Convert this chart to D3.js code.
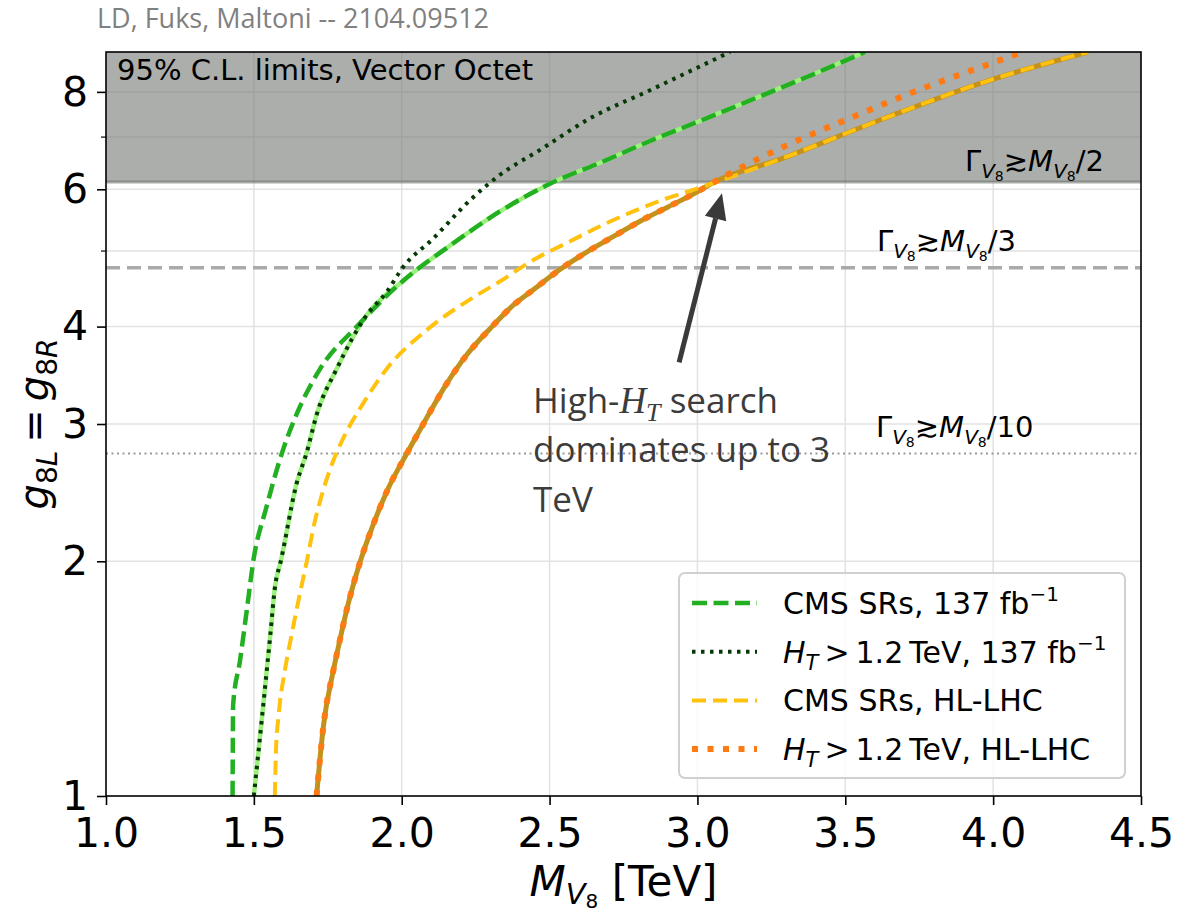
<!DOCTYPE html>
<html>
<head>
<meta charset="utf-8">
<script src="https://cdn.jsdelivr.net/npm/d3@7"></script>
<style>
    body { margin: 0; background: #fff; }
    svg text { font-family: "DejaVu Sans", sans-serif; }
</style>
</head>
<body>
<svg id="chart" width="1178" height="914"></svg>
<script>

var margin = { top: 52, right: 37, bottom: 118, left: 106 }
    , width = 1178 - margin.left - margin.right
    , height = 914 - margin.top - margin.bottom;

// limit curves, [M_V8 in TeV, g8L = g8R]
const cms137 = [[1.428, 1.0], [1.430, 1.31], [1.453, 1.49], [1.476, 1.73], [1.498, 2.0], [1.543, 2.35],
    [1.600, 2.79], [1.645, 3.09], [1.724, 3.53], [1.848, 4.0], [2.005, 4.58], [2.163, 5.08], [2.332, 5.62],
    [2.501, 6.10], [2.671, 6.49], [2.84, 6.92], [3.0, 7.32], [3.178, 7.80], [3.37, 8.36], [3.567, 9.0]];

const ht137 = [[1.500, 1.0], [1.532, 1.31], [1.555, 1.60], [1.572, 1.86], [1.591, 2.0], [1.645, 2.52],
    [1.679, 2.76], [1.713, 3.09], [1.780, 3.53], [1.882, 4.14], [1.949, 4.43], [2.005, 4.77], [2.107, 5.19],
    [2.231, 5.81], [2.332, 6.26], [2.468, 6.74], [2.637, 7.4], [2.84, 8.04], [3.11, 9.0]];

const cmsHL = [[1.571, 1.0], [1.575, 1.15], [1.583, 1.26], [1.605, 1.45], [1.622, 1.57], [1.656, 1.82],
    [1.679, 2.0], [1.705, 2.24], [1.735, 2.47], [1.77, 2.70], [1.803, 2.88], [1.870, 3.19], [1.949, 3.53],
    [2.085, 3.96], [2.242, 4.36], [2.332, 4.57], [2.445, 4.87], [2.558, 5.12], [2.671, 5.38], [2.783, 5.62],
    [2.896, 5.84], [2.98, 5.98], [3.043, 6.09], [3.29, 6.58], [3.629, 7.39], [3.967, 8.23], [4.32, 9.0]];

const htHL = [[1.712, 1.0], [1.722, 1.10], [1.735, 1.227], [1.769, 1.45], [1.786, 1.554], [1.814, 1.733],
    [1.86, 2.0], [1.90, 2.21], [1.95, 2.46], [2.022, 2.77], [2.073, 3.0], [2.15, 3.37], [2.22, 3.68],
    [2.30, 3.98], [2.38, 4.27], [2.445, 4.46], [2.53, 4.72], [2.62, 4.97], [2.716, 5.22], [2.806, 5.46],
    [2.902, 5.70], [2.998, 5.95], [3.043, 6.09], [3.1, 6.26], [3.29, 6.80], [3.5, 7.36], [3.75, 8.05],
    [4.0, 8.72], [4.10, 9.0]];

// best of the two searches (where the curves cross)
const cross137 = 1.882;
const crossHL = 3.043;

const mTicks = [1.0, 1.5, 2.0, 2.5, 3.0, 3.5, 4.0, 4.5];
const gTicks = [1, 2, 3, 4, 6, 8];
const gMinorTicks = [5, 7];
const gGrid = [2, 3, 4, 5, 6, 7, 8];

// Gamma >~ M / n lines
const widthFractions = ["2", "3", "10"];
const widthCouplings = [6.13, 4.76, 2.75];

const legendNames = ["CMS SRs, 137 fb", "H_T>1.2 TeV, 137 fb", "CMS SRs, HL-LHC", "H_T>1.2 TeV, HL-LHC"];

const colors = {
    cms137: "#22b022",
    ht137: "#063806",
    cmsHL: "#ffc20e",
    htHL: "#ff7a12",
    comb137: "#9cf07c",
    combHL: "#c4911c"
};

var x = d3.scaleLinear().domain([1, 4.5]).range([0, width]);
var y = d3.scaleLog().domain([1, 9]).range([height, 0]);

var line = d3.line()
    .x(function (d) { return x(d[0]); })
    .y(function (d) { return y(d[1]); })
    .curve(d3.curveMonotoneX);

var svg = d3.select("#chart");

svg.append("text")
    .attr("x", 97)
    .attr("y", 28)
    .style("font-family", "'Open Sans', sans-serif")
    .style("font-size", "27px")
    .attr("fill", "#808080")
    .text("LD, Fuks, Maltoni -- 2104.09512");

var g = svg.append("g")
    .attr("transform", "translate(" + margin.left + "," + margin.top + ")");

g.append("clipPath").attr("id", "plotclip")
    .append("rect").attr("width", width).attr("height", height);

// grid
g.append("g").selectAll("line")
    .data(mTicks.slice(1, -1))
    .enter().append("line")
    .attr("x1", function (d) { return x(d); })
    .attr("x2", function (d) { return x(d); })
    .attr("y1", 0).attr("y2", height)
    .attr("stroke", "#e2e2e2").attr("stroke-width", 1.5);

g.append("g").selectAll("line")
    .data(gGrid)
    .enter().append("line")
    .attr("y1", function (d) { return y(d); })
    .attr("y2", function (d) { return y(d); })
    .attr("x1", 0).attr("x2", width)
    .attr("stroke", "#e2e2e2").attr("stroke-width", 1.5);

// non-perturbative band
g.append("rect")
    .attr("x", 0)
    .attr("y", y(9))
    .attr("width", width)
    .attr("height", y(widthCouplings[0]) - y(9))
    .attr("fill", "rgb(115,120,115)")
    .attr("opacity", 0.6);

g.append("line")
    .attr("x1", 0).attr("x2", width)
    .attr("y1", y(widthCouplings[0])).attr("y2", y(widthCouplings[0]))
    .attr("stroke", "rgb(115,120,115)").attr("opacity", 0.6).attr("stroke-width", 3);

g.append("line")
    .attr("x1", 0).attr("x2", width)
    .attr("y1", y(widthCouplings[1])).attr("y2", y(widthCouplings[1]))
    .attr("stroke", "#aaaaaa").attr("stroke-width", 3.5).attr("stroke-dasharray", "14,7");

g.append("line")
    .attr("x1", 0).attr("x2", width)
    .attr("y1", y(widthCouplings[2])).attr("y2", y(widthCouplings[2]))
    .attr("stroke", "#999999").attr("stroke-width", 2).attr("stroke-dasharray", "2,3.5");

// Gamma labels
function widthLabel(px, py, frac) {
    var t = g.append("text").attr("x", px).attr("y", py).style("font-size", "29px").attr("fill", "#000");
    t.append("tspan").text("\u0393");
    t.append("tspan").text("V").style("font-style", "italic").style("font-size", "20px").attr("dy", 7);
    t.append("tspan").text("8").style("font-size", "14px").attr("dy", 3);
    t.append("tspan").text("\u2273").attr("dy", -10);
    t.append("tspan").text("M").style("font-style", "italic");
    t.append("tspan").text("V").style("font-style", "italic").style("font-size", "20px").attr("dy", 7);
    t.append("tspan").text("8").style("font-size", "14px").attr("dy", 3);
    t.append("tspan").text("/" + frac).attr("dy", -10);
}
var labelOffsets = [[859, -11], [771, -17], [770, -16.5]];
widthFractions.forEach(function (f, i) {
    widthLabel(labelOffsets[i][0], y(widthCouplings[i]) + labelOffsets[i][1], f);
});

// curves
var curves = g.append("g").attr("clip-path", "url(#plotclip)");

var comb137 = ht137.filter(function (d) { return d[0] <= cross137; })
    .concat(cms137.filter(function (d) { return d[0] > cross137; }));
var combHL = htHL.filter(function (d) { return d[0] <= crossHL; })
    .concat(cmsHL.filter(function (d) { return d[0] > crossHL; }));

curves.append("path").datum(comb137)
    .attr("d", line).attr("fill", "none")
    .attr("stroke", colors.comb137).attr("stroke-width", 4.5);

curves.append("path").datum(combHL)
    .attr("d", line).attr("fill", "none")
    .attr("stroke", colors.combHL).attr("stroke-width", 5);

var series = [
    { data: cms137, color: colors.cms137, w: 4.5, dash: "15,6.5" },
    { data: ht137, color: colors.ht137, w: 4, dash: "3.5,5.5" },
    { data: cmsHL, color: colors.cmsHL, w: 4, dash: "14,7" },
    { data: htHL, color: colors.htHL, w: 6, dash: "6,9.5" }
];

series.forEach(function (s) {
    curves.append("path").datum(s.data)
        .attr("d", line).attr("fill", "none")
        .attr("stroke", s.color).attr("stroke-width", s.w)
        .attr("stroke-dasharray", s.dash);
});

// annotation + arrow
var arrowTail = [2.938, 3.60], arrowTip = [3.083, 5.93];
var ax0 = x(arrowTail[0]), ay0 = y(arrowTail[1]), ax1 = x(arrowTip[0]), ay1 = y(arrowTip[1]);
var ang = Math.atan2(ay1 - ay0, ax1 - ax0);
var headLen = 26, headW = 11;
var bx = ax1 - headLen * Math.cos(ang), by = ay1 - headLen * Math.sin(ang);
g.append("line")
    .attr("x1", ax0).attr("y1", ay0).attr("x2", bx).attr("y2", by)
    .attr("stroke", "#3a3a3a").attr("stroke-width", 5);
g.append("polygon")
    .attr("points", [
        [ax1, ay1],
        [bx + headW * Math.sin(ang), by - headW * Math.cos(ang)],
        [bx - headW * Math.sin(ang), by + headW * Math.cos(ang)]
    ].map(function (p) { return p.join(","); }).join(" "))
    .attr("fill", "#3a3a3a");

var note = g.append("text")
    .attr("x", 427).attr("y", 361)
    .style("font-family", "'Open Sans', sans-serif")
    .style("font-size", "35px")
    .attr("fill", "#3c3c3c");
var l1 = note.append("tspan").attr("x", 427).attr("y", 361);
l1.append("tspan").text("High-");
l1.append("tspan").text("H").style("font-family", "'Liberation Serif', serif").style("font-style", "italic").style("font-size", "37px");
l1.append("tspan").text("T").style("font-family", "'Liberation Serif', serif").style("font-style", "italic").style("font-size", "26px").attr("dy", 8);
l1.append("tspan").text(" search").attr("dy", -8);
note.append("tspan").attr("x", 427).attr("y", 410).text("dominates up to 3");
note.append("tspan").attr("x", 427).attr("y", 460).text("TeV");

g.append("text")
    .attr("x", 11).attr("y", 28)
    .style("font-size", "29px")
    .attr("fill", "#000")
    .text("95% C.L. limits, Vector Octet");

// axes
var xAxis = d3.axisBottom(x).tickValues(mTicks)
    .tickFormat(d3.format(".1f")).tickSize(9).tickPadding(13);
var yAxis = d3.axisLeft(y).tickValues(gTicks)
    .tickFormat(d3.format("d")).tickSize(9).tickPadding(9);

var xg = g.append("g").attr("transform", "translate(0," + height + ")").call(xAxis);
var yg = g.append("g").call(yAxis);
[xg, yg].forEach(function (a) {
    a.select(".domain").remove();
    a.selectAll(".tick line").attr("stroke", "#000").attr("stroke-width", 1.6);
    a.selectAll("text").style("font-size", "41px").attr("fill", "#000")
        .style("font-family", "'DejaVu Sans', sans-serif");
});

g.append("g").selectAll("line")
    .data(gMinorTicks)
    .enter().append("line")
    .attr("x1", -5).attr("x2", 0)
    .attr("y1", function (d) { return y(d); })
    .attr("y2", function (d) { return y(d); })
    .attr("stroke", "#000").attr("stroke-width", 1.2);

g.append("rect")
    .attr("width", width).attr("height", height)
    .attr("fill", "none").attr("stroke", "#000").attr("stroke-width", 1.6);

// axis labels
var xl = svg.append("text")
    .attr("x", margin.left + width / 2).attr("y", 896)
    .attr("text-anchor", "middle")
    .style("font-size", "42px").attr("fill", "#000");
xl.append("tspan").text("M").style("font-style", "italic");
xl.append("tspan").text("V").style("font-style", "italic").style("font-size", "29px").attr("dy", 8);
xl.append("tspan").text("8").style("font-size", "20px").attr("dy", 4);
xl.append("tspan").text(" [TeV]").attr("dy", -12);

var yl = svg.append("text")
    .attr("transform", "translate(48," + (margin.top + height / 2) + ") rotate(-90)")
    .attr("text-anchor", "middle")
    .style("font-size", "40px").attr("fill", "#000");
yl.append("tspan").text("g").style("font-style", "italic");
yl.append("tspan").text("8").style("font-size", "28px").attr("dy", 9);
yl.append("tspan").text("L").style("font-style", "italic").style("font-size", "28px");
yl.append("tspan").text("\u2009=\u2009").attr("dy", -9);
yl.append("tspan").text("g").style("font-style", "italic");
yl.append("tspan").text("8").style("font-size", "28px").attr("dy", 9);
yl.append("tspan").text("R").style("font-style", "italic").style("font-size", "28px");

// legend
var lg = g.append("g").attr("transform", "translate(573,521)");
lg.append("rect")
    .attr("width", 446).attr("height", 205).attr("rx", 6)
    .attr("fill", "#fff").attr("fill-opacity", 0.8)
    .attr("stroke", "#d0d0d0").attr("stroke-width", 2);

legendNames.forEach(function (name, i) {
    var s = series[i];
    var ry = 30 + i * 48.7;
    lg.append("line")
        .attr("x1", 13).attr("x2", 78).attr("y1", ry).attr("y2", ry)
        .attr("stroke", s.color).attr("stroke-width", s.w)
        .attr("stroke-dasharray", s.dash);
    var t = lg.append("text").attr("x", 104).attr("y", ry + 11)
        .style("font-size", "30px").attr("fill", "#000");
    var parts = name.split("H_T");
    if (parts.length > 1) {
        t.append("tspan").text("H").style("font-style", "italic");
        t.append("tspan").text("T").style("font-style", "italic").style("font-size", "21px").attr("dy", 7);
        t.append("tspan").text(parts[1].replace(" ", "\u2009").replace(">", "\u2009>\u2009")).attr("dy", -7);
    } else {
        t.append("tspan").text(name);
    }
    if (name.indexOf("fb") >= 0) {
        t.append("tspan").text("\u22121").style("font-size", "20px").attr("dy", -13);
    }
});

</script>
</body>
</html>
